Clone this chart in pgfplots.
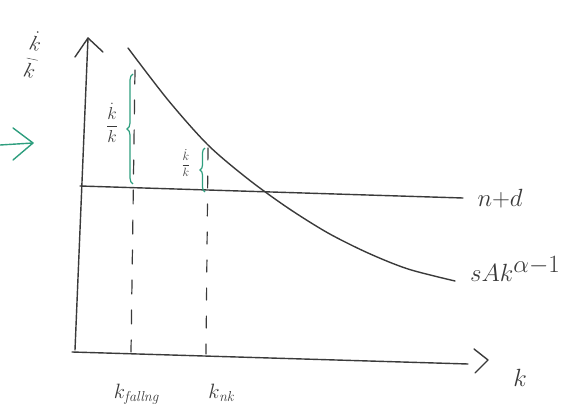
\documentclass[border=0pt]{standalone}
\usepackage{pgfplots}
\pgfplotsset{compat=1.18}
\usetikzlibrary{decorations.pathreplacing}
\definecolor{ink}{HTML}{3A3A3A}
\definecolor{pen}{HTML}{2E9E7E}
\begin{document}
\begin{tikzpicture}
\begin{axis}[
  width=576pt, height=410pt, scale only axis,
  xmin=0, xmax=576, ymin=0, ymax=410,
  hide axis, clip=false,
  every axis plot/.append style={line width=1.4pt, ink, line cap=round, line join=round},
]
% vertical axis with arrow head
\addplot[mark=none] coordinates {(75,60) (88,372)};
\addplot[mark=none] coordinates {(75,353) (88,372) (103,358)};
% horizontal axis with arrow head
\addplot[mark=none] coordinates {(72,58) (468,46)};
\addplot[mark=none] coordinates {(474,61) (488,50) (475,37)};
% n+d line
\addplot[mark=none] coordinates {(80,224) (463,212)};
% sAk^(alpha-1) curve
\addplot[mark=none, smooth] coordinates {
  (128,362) (168,310) (208,265) (248,231) (288,202) (328,177)
  (368,157) (408,141) (455,129)};
% dashed guides down to the k axis
\addplot[mark=none, line width=1.2pt, dash pattern=on 14pt off 16pt] coordinates {(135,340) (131,58)};
\addplot[mark=none, line width=1.2pt, dash pattern=on 12pt off 16pt] coordinates {(208,262) (206,56)};
% green braces
\draw[pen, line width=1.2pt, decorate, decoration={brace, amplitude=6pt}]
  (axis cs:133,226) -- (axis cs:133,336);
\draw[pen, line width=1.2pt, decorate, decoration={brace, amplitude=5pt}]
  (axis cs:205,218) -- (axis cs:205,262);
% green arrow on the left
\addplot[mark=none, pen] coordinates {(0,265) (33,267)};
\addplot[mark=none, pen] coordinates {(13,282) (33,267) (13,250)};
% labels
\node[ink, rotate=-12] at (axis cs:33,355) {\fontsize{22}{24}\selectfont $\displaystyle\frac{\dot{k}}{k}$};
\node[ink] at (axis cs:112,287) {\fontsize{16}{18}\selectfont $\displaystyle\frac{\dot{k}}{k}$};
\node[ink] at (axis cs:186,247) {\fontsize{13}{15}\selectfont $\displaystyle\frac{\dot{k}}{k}$};
\node[ink, anchor=west] at (axis cs:474,211) {\fontsize{34}{36}\selectfont $n{+}d$};
\node[ink, anchor=base west, inner sep=0pt] at (axis cs:470,128) {\fontsize{34}{36}\selectfont $sAk^{\alpha-1}$};
\node[ink] at (axis cs:520,32) {\fontsize{30}{32}\selectfont $k$};
\node[ink, anchor=base] at (axis cs:137,12) {\fontsize{20}{22}\selectfont $k_{\mathit{fallng}}$};
\node[ink, anchor=base] at (axis cs:222,12) {\fontsize{20}{22}\selectfont $k_{\mathit{nk}}$};
\end{axis}
\pgfresetboundingbox
\useasboundingbox (0,0) rectangle (576pt,410pt);
\end{tikzpicture}
\end{document}
